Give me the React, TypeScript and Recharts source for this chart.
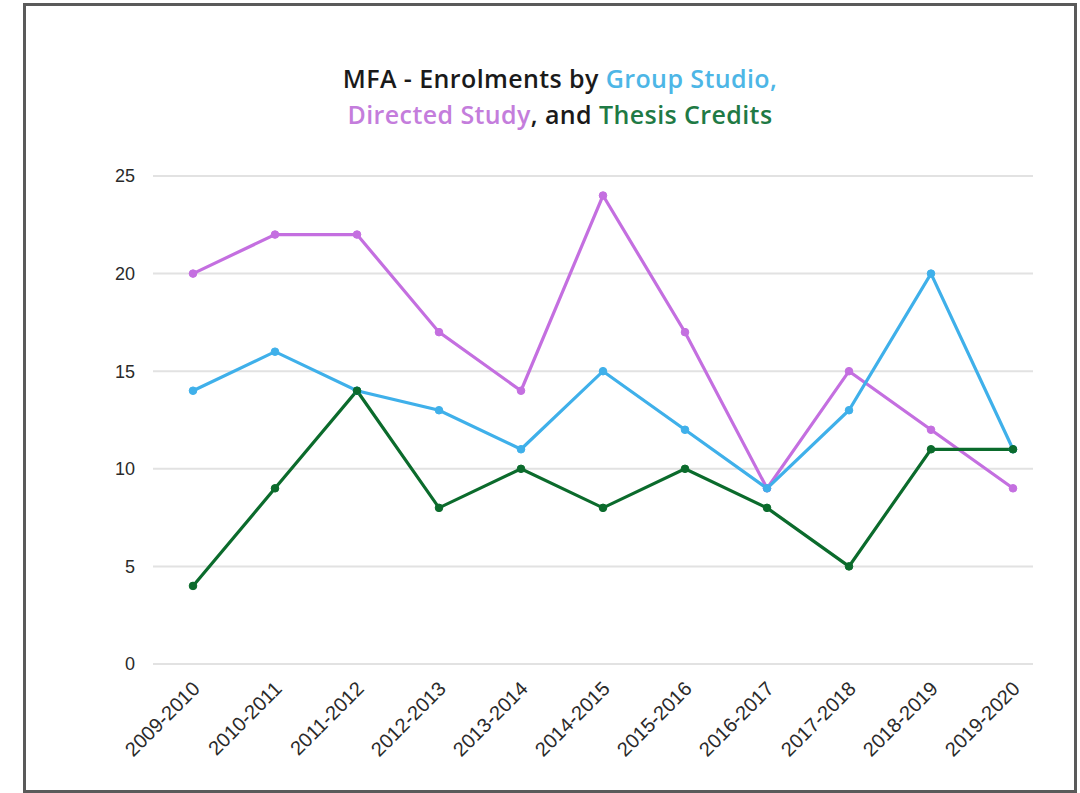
import React from 'react';
import { LineChart, Line, XAxis, YAxis, CartesianGrid } from 'recharts';

const years = [
  '2009-2010', '2010-2011', '2011-2012', '2012-2013', '2013-2014', '2014-2015',
  '2015-2016', '2016-2017', '2017-2018', '2018-2019', '2019-2020',
];
const groupStudio = [14, 16, 14, 13, 11, 15, 12, 9, 13, 20, 11];
const directedStudy = [20, 22, 22, 17, 14, 24, 17, 9, 15, 12, 9];
const thesisCredits = [4, 9, 14, 8, 10, 8, 10, 8, 5, 11, 11];
const yTicks = [0, 5, 10, 15, 20, 25];

const data = years.map((year, i) => ({
  year,
  group: groupStudio[i],
  directed: directedStudy[i],
  thesis: thesisCredits[i],
}));

const BLUE = '#3fb0ea';
const PURPLE = '#c46fe0';
const GREEN = '#0b6b2c';

const XTick = (props: any) => {
  const { x, y, payload } = props;
  return (
    <g transform={`translate(${x + 8},${y + 18})`}>
      <text
        transform="rotate(-45)"
        textAnchor="end"
        fill="#2a2a2a"
        fontSize={20}
        fontFamily="Liberation Sans, Arial, sans-serif"
      >
        {payload.value}
      </text>
    </g>
  );
};

const App: React.FC = () => {
  return (
    <div style={{ position: 'fixed', left: 0, top: 0, width: 1080, height: 793, background: '#fff', overflow: 'hidden' }}>
      <div
        style={{
          position: 'absolute',
          left: 23,
          top: 3,
          width: 1048,
          height: 784,
          border: '3px solid #5a5a5a',
        }}
      />
      <div
        style={{
          position: 'absolute',
          left: 0,
          top: 60,
          width: 1120,
          textAlign: 'center',
          fontFamily: '"Open Sans", sans-serif',
          fontWeight: 600,
          fontSize: 25,
          letterSpacing: 0.4,
          lineHeight: '36px',
          color: '#1a1a1a',
        }}
      >
        MFA - Enrolments by <span style={{ color: '#4db6e6' }}>Group Studio,</span>
        <br />
        <span style={{ color: '#c47ddc' }}>Directed Study</span>, and{' '}
        <span style={{ color: '#1f7a45' }}>Thesis Credits</span>
      </div>
      <div style={{ position: 'absolute', left: 0, top: 0 }}>
        <LineChart width={1080} height={793} data={data} margin={{ top: 176, right: 47, bottom: 0, left: 0 }}>
          <CartesianGrid vertical={false} stroke="#e2e2e2" strokeWidth={2} />
          <XAxis
            dataKey="year"
            axisLine={false}
            tickLine={false}
            height={129}
            interval={0}
            padding={{ left: 40, right: 20 }}
            tick={<XTick />}
          />
          <YAxis
            domain={[0, 25]}
            ticks={yTicks}
            width={153}
            axisLine={false}
            tickLine={false}
            tickSize={0}
            tickMargin={18}
            tick={{ fill: '#2a2a2a', fontSize: 18, fontFamily: 'Liberation Sans, Arial, sans-serif' }}
          />
          <Line
            type="linear"
            dataKey="directed"
            stroke={PURPLE}
            strokeWidth={3.2}
            dot={{ r: 3.8, fill: PURPLE, stroke: PURPLE, strokeWidth: 1 }}
            isAnimationActive={false}
          />
          <Line
            type="linear"
            dataKey="group"
            stroke={BLUE}
            strokeWidth={3.2}
            dot={{ r: 3.8, fill: BLUE, stroke: BLUE, strokeWidth: 1 }}
            isAnimationActive={false}
          />
          <Line
            type="linear"
            dataKey="thesis"
            stroke={GREEN}
            strokeWidth={3.2}
            dot={{ r: 3.8, fill: GREEN, stroke: GREEN, strokeWidth: 1 }}
            isAnimationActive={false}
          />
        </LineChart>
      </div>
    </div>
  );
};

export default App;
